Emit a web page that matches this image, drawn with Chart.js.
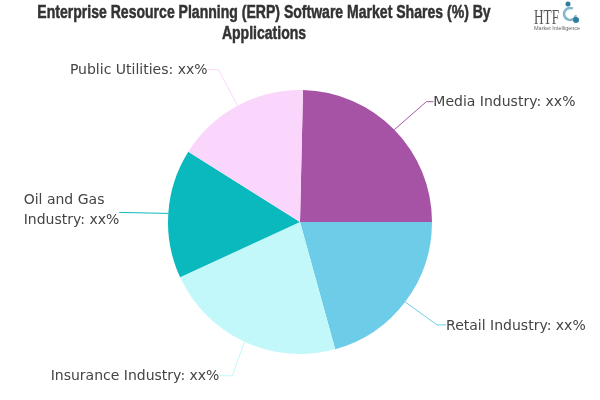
<!DOCTYPE html>
<html>
<head>
<meta charset="utf-8">
<style>
  html, body { margin: 0; padding: 0; background: #fff; }
  #wrap { width: 600px; height: 400px; }
</style>
<script src="https://cdn.jsdelivr.net/npm/chart.js@4"></script>
</head>
<body>
<div id="wrap"><canvas id="pie" width="600" height="400"></canvas></div>
<script>
// values
const categories = ['Media Industry', 'Retail Industry', 'Insurance Industry', 'Oil and Gas Industry', 'Public Utilities'];
const shares = [24.6, 20.7, 22.4, 15.8, 16.4];
const sliceColors = ['#a653a6', '#6dcde8', '#c3f8fa', '#0ab9be', '#fbd6fc'];
const valueText = 'xx%';
const titleLines = ['Enterprise Resource Planning (ERP) Software Market Shares (%) By', 'Applications'];

// leader line elbow, relative to the middle of the slice edge, and which way the text goes
const elbows = [[32, -28], [32, 23], [-12, 34], [-49, -1], [-19, -36]];
const stubs = [7, 9, 13, 0, 11];
const labelFont = '14px "DejaVu Sans"';

const leaderLabels = {
  id: 'leaderLabels',
  afterDatasetsDraw(chart){
    const ctx = chart.ctx;
    const arcs = chart.getDatasetMeta(0).data;
    arcs.forEach((arc, i) => {
      const mid = (arc.startAngle + arc.endAngle) / 2;
      const x0 = arc.x + Math.cos(mid) * arc.outerRadius;
      const y0 = arc.y + Math.sin(mid) * arc.outerRadius;
      const ex = x0 + elbows[i][0];
      const ey = y0 + elbows[i][1];
      const right = elbows[i][0] > 0;
      const x1 = ex + (right ? stubs[i] : -stubs[i]);

      ctx.save();
      ctx.strokeStyle = sliceColors[i];
      ctx.lineWidth = 1;
      ctx.beginPath();
      ctx.moveTo(x0, y0);
      ctx.lineTo(ex, ey);
      ctx.lineTo(x1, ey);
      ctx.stroke();

      ctx.font = labelFont;
      ctx.fillStyle = '#444';
      ctx.textBaseline = 'middle';
      ctx.textAlign = right ? 'left' : 'right';
      if (categories[i] === 'Oil and Gas Industry'){
        // this one wraps in the reference, both lines start at the same x
        const second = 'Industry: ' + valueText;
        const left = x1 - ctx.measureText(second).width;
        ctx.textAlign = 'left';
        ctx.fillText('Oil and Gas', left, ey - 12);
        ctx.fillText(second, left, ey + 8);
      } else {
        ctx.fillText(categories[i] + ': ' + valueText, x1, ey + 1);
      }
      ctx.restore();
    });
  }
};

// heavy condensed title, centred left of the pie
const condensedTitle = {
  id: 'condensedTitle',
  afterDraw(chart){
    const ctx = chart.ctx;
    ctx.save();
    ctx.font = 'bold 18px "Liberation Sans"';
    ctx.fillStyle = '#333';
    ctx.strokeStyle = '#333';
    ctx.lineWidth = 0.5;
    ctx.textAlign = 'center';
    ctx.textBaseline = 'middle';
    titleLines.forEach((line, i) => {
      const w = ctx.measureText(line).width * 0.78;
      ctx.fillText(line, 264, 13 + i * 21, w);
      ctx.strokeText(line, 264, 13 + i * 21, w);
    });
    ctx.restore();
  }
};

// small HTF logo, top right
const logo = {
  id: 'logo',
  afterDraw(chart){
    const ctx = chart.ctx;
    ctx.save();
    ctx.fillStyle = '#555';
    ctx.textBaseline = 'alphabetic';
    ctx.textAlign = 'left';
    ctx.font = '20px "Liberation Serif"';
    ctx.fillText('HTF', 534, 24, 25);
    ctx.font = '5.5px "Liberation Sans"';
    ctx.fillStyle = '#666';
    ctx.fillText('Market Intelligence', 534, 29.5, 49);
    ctx.strokeStyle = '#7fb6cc';
    ctx.lineWidth = 2.5;
    ctx.beginPath();
    ctx.arc(570, 14, 6, 0.2, 5.2);
    ctx.stroke();
    ctx.fillStyle = '#2f7f9c';
    ctx.beginPath();
    ctx.arc(568, 4, 2.5, 0, Math.PI * 2);
    ctx.arc(576, 20, 3, 0, Math.PI * 2);
    ctx.fill();
    ctx.restore();
  }
};

new Chart(document.getElementById('pie').getContext('2d'), {
  type: 'pie',
  data: {
    labels: categories,
    datasets: [{ data: shares, backgroundColor: sliceColors, borderWidth: 0 }]
  },
  options: {
    responsive: false,
    animation: false,
    rotation: 1.3,
    layout: { padding: { top: 90, bottom: 46 } },
    plugins: {
      legend: { display: false },
      tooltip: { enabled: false }
    }
  },
  plugins: [leaderLabels, condensedTitle, logo]
});
</script>
</body>
</html>
